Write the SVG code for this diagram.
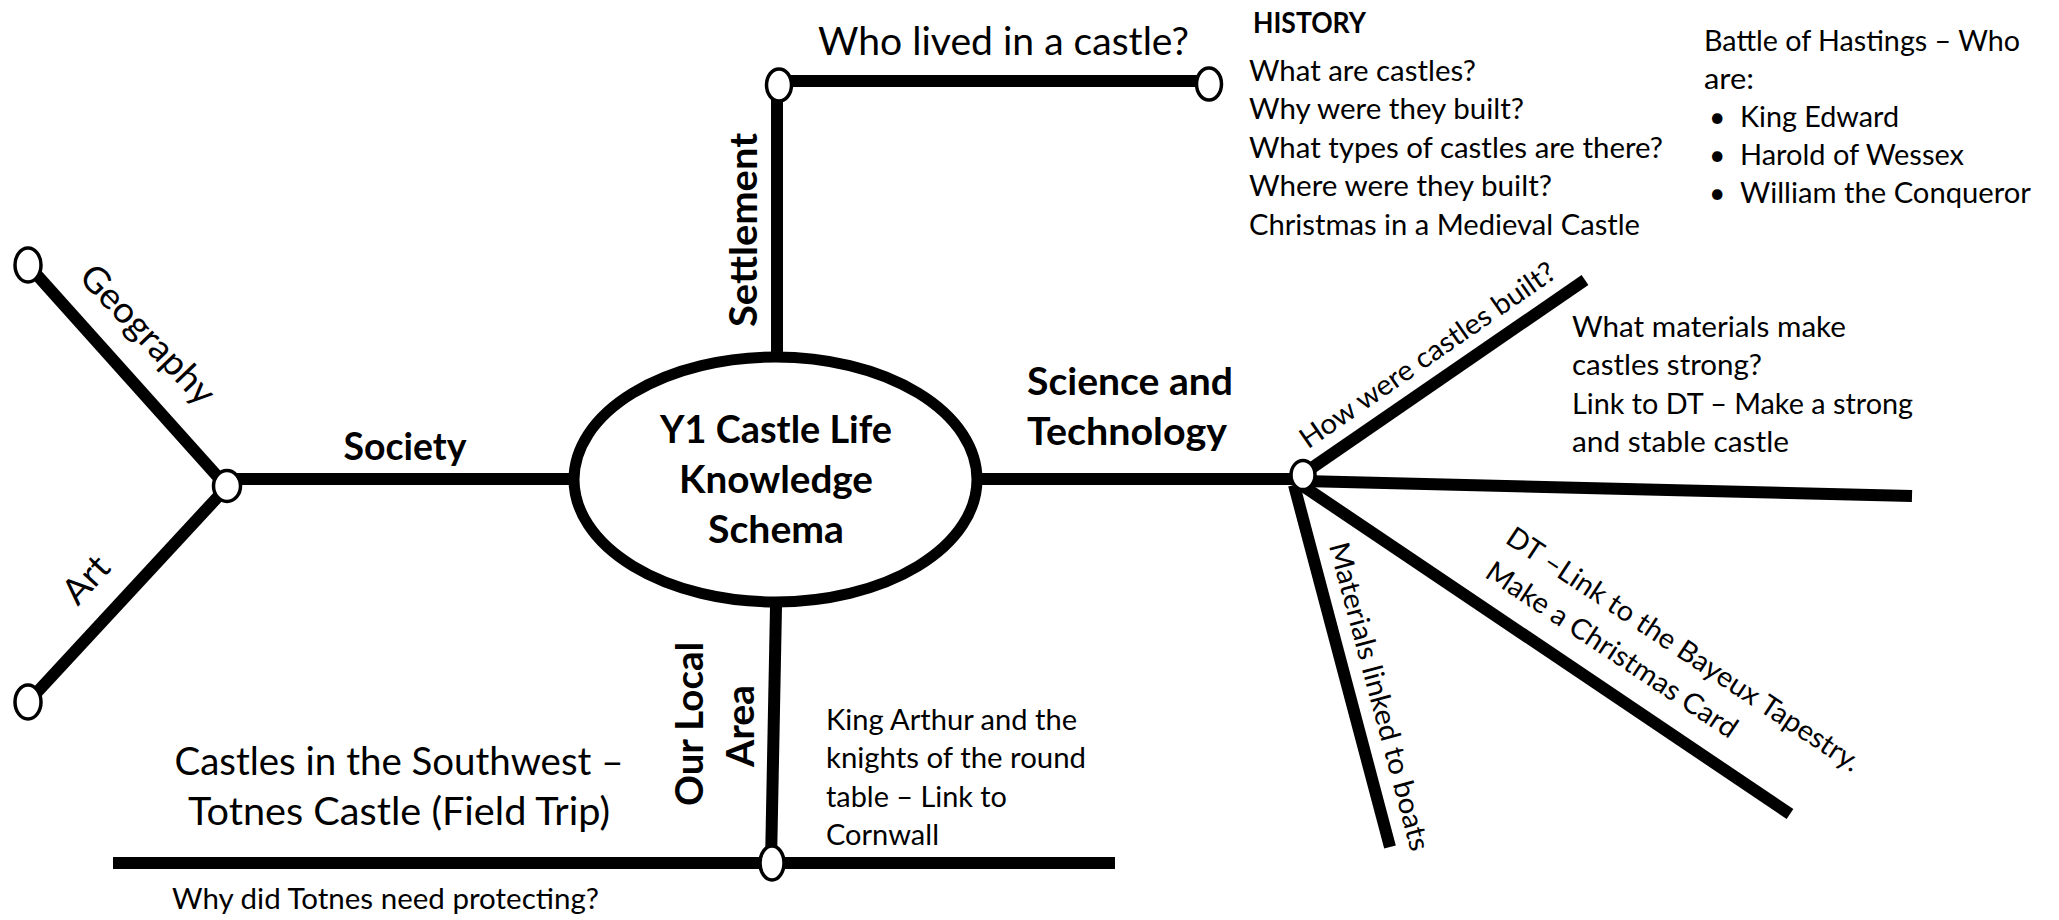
<svg xmlns="http://www.w3.org/2000/svg" width="2059" height="920" viewBox="0 0 2059 920">
<style>
.t{font-family:Lato,"Liberation Sans",sans-serif;font-size:28.3px;fill:#000}
.b{font-weight:bold}
.big{font-size:37.7px}
.mid{font-size:36px}
.conn{stroke:#000;stroke-width:12;fill:none;stroke-linecap:butt}
.node{fill:#fff;stroke:#000;stroke-width:3.5}
.hub{fill:#fff;stroke:#000;stroke-width:11}
</style>
<rect width="2059" height="920" fill="#fff"/>
<g id="connectors">
  <line class="conn" x1="227" y1="479" x2="570" y2="479"/>
  <line class="conn" x1="28" y1="265" x2="227" y2="487"/>
  <line class="conn" x1="227" y1="487" x2="28" y2="702"/>
  <line class="conn" x1="777" y1="352" x2="777" y2="85"/>
  <line class="conn" x1="779" y1="81" x2="1209" y2="81"/>
  <line class="conn" x1="776" y1="607" x2="771" y2="863"/>
  <line class="conn" x1="113" y1="863" x2="1115" y2="863"/>
  <line class="conn" x1="981" y1="479" x2="1300" y2="479"/>
  <line class="conn" x1="1303" y1="474" x2="1585" y2="280"/>
  <line class="conn" x1="1303" y1="481" x2="1912" y2="496"/>
  <line class="conn" x1="1300" y1="484" x2="1790" y2="814"/>
  <line class="conn" x1="1294" y1="485" x2="1390" y2="847"/>
</g>
<g id="center">
  <ellipse class="hub" cx="775.5" cy="479.5" rx="201.5" ry="122.5"/>
  <text class="t b big" text-anchor="middle" x="776" y="443" textLength="232" lengthAdjust="spacingAndGlyphs">Y1 Castle Life</text>
  <text class="t b big" text-anchor="middle" x="776" y="493" textLength="194" lengthAdjust="spacingAndGlyphs">Knowledge</text>
  <text class="t b big" text-anchor="middle" x="776" y="543" textLength="136" lengthAdjust="spacingAndGlyphs">Schema</text>
</g>
<g id="node-society">
  <ellipse class="node" cx="227" cy="486" rx="13.5" ry="15.5"/>
  <text class="t b big" text-anchor="middle" x="405" y="460" textLength="123" lengthAdjust="spacingAndGlyphs">Society</text>
</g>
<g id="node-geography">
  <ellipse class="node" cx="28" cy="265" rx="13" ry="17"/>
  <text class="t mid" text-anchor="middle" transform="translate(139,343) rotate(46.4)" textLength="178" lengthAdjust="spacingAndGlyphs">Geography</text>
</g>
<g id="node-art">
  <ellipse class="node" cx="28" cy="702" rx="13" ry="17"/>
  <text class="t mid" text-anchor="middle" transform="translate(95,588) rotate(-47.5)" textLength="51" lengthAdjust="spacingAndGlyphs">Art</text>
</g>
<g id="node-settlement">
  <text class="t b big" text-anchor="middle" transform="translate(757,230) rotate(-90)" textLength="194" lengthAdjust="spacingAndGlyphs">Settlement</text>
  <ellipse class="node" cx="779" cy="85" rx="12.5" ry="16"/>
</g>
<g id="node-who-lived">
  <ellipse class="node" cx="1209" cy="84" rx="12.5" ry="16"/>
  <text class="t big" x="818" y="55" textLength="371" lengthAdjust="spacingAndGlyphs">Who lived in a castle?</text>
</g>
<g id="history">
  <text class="t b" x="1253" y="33" textLength="113" lengthAdjust="spacingAndGlyphs">HISTORY</text>
  <text class="t" x="1249" y="81" textLength="227" lengthAdjust="spacingAndGlyphs">What are castles?</text>
  <text class="t" x="1249" y="119.4" textLength="275" lengthAdjust="spacingAndGlyphs">Why were they built?</text>
  <text class="t" x="1249" y="157.8" textLength="414" lengthAdjust="spacingAndGlyphs">What types of castles are there?</text>
  <text class="t" x="1249" y="196.2" textLength="303" lengthAdjust="spacingAndGlyphs">Where were they built?</text>
  <text class="t" x="1249" y="234.6" textLength="391" lengthAdjust="spacingAndGlyphs">Christmas in a Medieval Castle</text>
</g>
<g id="battle">
  <text class="t" x="1704" y="51" textLength="316" lengthAdjust="spacingAndGlyphs">Battle of Hastings – Who</text>
  <text class="t" x="1704" y="89" textLength="50" lengthAdjust="spacingAndGlyphs">are:</text>
  <text class="t" x="1709" y="127" font-size="24">•</text>
  <text class="t" x="1740" y="127" textLength="159" lengthAdjust="spacingAndGlyphs">King Edward</text>
  <text class="t" x="1709" y="165" font-size="24">•</text>
  <text class="t" x="1740" y="165" textLength="224" lengthAdjust="spacingAndGlyphs">Harold of Wessex</text>
  <text class="t" x="1709" y="203" font-size="24">•</text>
  <text class="t" x="1740" y="203" textLength="291" lengthAdjust="spacingAndGlyphs">William the Conqueror</text>
</g>
<g id="node-science">
  <text class="t b big" x="1027" y="395" textLength="206" lengthAdjust="spacingAndGlyphs">Science and</text>
  <text class="t b big" x="1027" y="445" textLength="200" lengthAdjust="spacingAndGlyphs">Technology</text>
  <ellipse class="node" cx="1303" cy="475" rx="12" ry="14.5"/>
</g>
<g id="branch-how-built">
  <text class="t" text-anchor="middle" transform="translate(1433,363) rotate(-34.7)" textLength="304" lengthAdjust="spacingAndGlyphs">How were castles built?</text>
</g>
<g id="branch-materials">
  <text class="t" x="1572" y="337" textLength="274" lengthAdjust="spacingAndGlyphs">What materials make</text>
  <text class="t" x="1572" y="375.4" textLength="190" lengthAdjust="spacingAndGlyphs">castles strong?</text>
  <text class="t" x="1572" y="413.8" textLength="341" lengthAdjust="spacingAndGlyphs">Link to DT – Make a strong</text>
  <text class="t" x="1572" y="452.2" textLength="217" lengthAdjust="spacingAndGlyphs">and stable castle</text>
</g>
<g id="branch-bayeux">
  <text class="t" transform="translate(1504,542) rotate(33.5)"><tspan x="0" y="0" textLength="418" lengthAdjust="spacingAndGlyphs">DT –Link to the Bayeux Tapestry.</tspan><tspan x="2" y="40" textLength="295" lengthAdjust="spacingAndGlyphs">Make a Christmas Card</tspan></text>
</g>
<g id="branch-boats">
  <text class="t" text-anchor="middle" transform="translate(1370,699) rotate(75)" textLength="318" lengthAdjust="spacingAndGlyphs">Materials linked to boats</text>
</g>
<g id="node-local-area">
  <text class="t b big" text-anchor="middle" transform="translate(703,724) rotate(-90)" textLength="164" lengthAdjust="spacingAndGlyphs">Our Local</text>
  <text class="t b big" text-anchor="middle" transform="translate(754,726) rotate(-90)" textLength="82" lengthAdjust="spacingAndGlyphs">Area</text>
  <ellipse class="node" cx="772" cy="863" rx="12" ry="17"/>
</g>
<g id="king-arthur">
  <text class="t" x="826" y="730" textLength="251" lengthAdjust="spacingAndGlyphs">King Arthur and the</text>
  <text class="t" x="826" y="768.4" textLength="260" lengthAdjust="spacingAndGlyphs">knights of the round</text>
  <text class="t" x="826" y="806.8" textLength="181" lengthAdjust="spacingAndGlyphs">table – Link to</text>
  <text class="t" x="826" y="845.2" textLength="113" lengthAdjust="spacingAndGlyphs">Cornwall</text>
</g>
<g id="totnes">
  <text class="t big" text-anchor="middle" x="399" y="775" textLength="449" lengthAdjust="spacingAndGlyphs">Castles in the Southwest –</text>
  <text class="t big" text-anchor="middle" x="399" y="825" textLength="422" lengthAdjust="spacingAndGlyphs">Totnes Castle (Field Trip)</text>
  <text class="t" x="172" y="909" textLength="427" lengthAdjust="spacingAndGlyphs">Why did Totnes need protecting?</text>
</g>
</svg>
